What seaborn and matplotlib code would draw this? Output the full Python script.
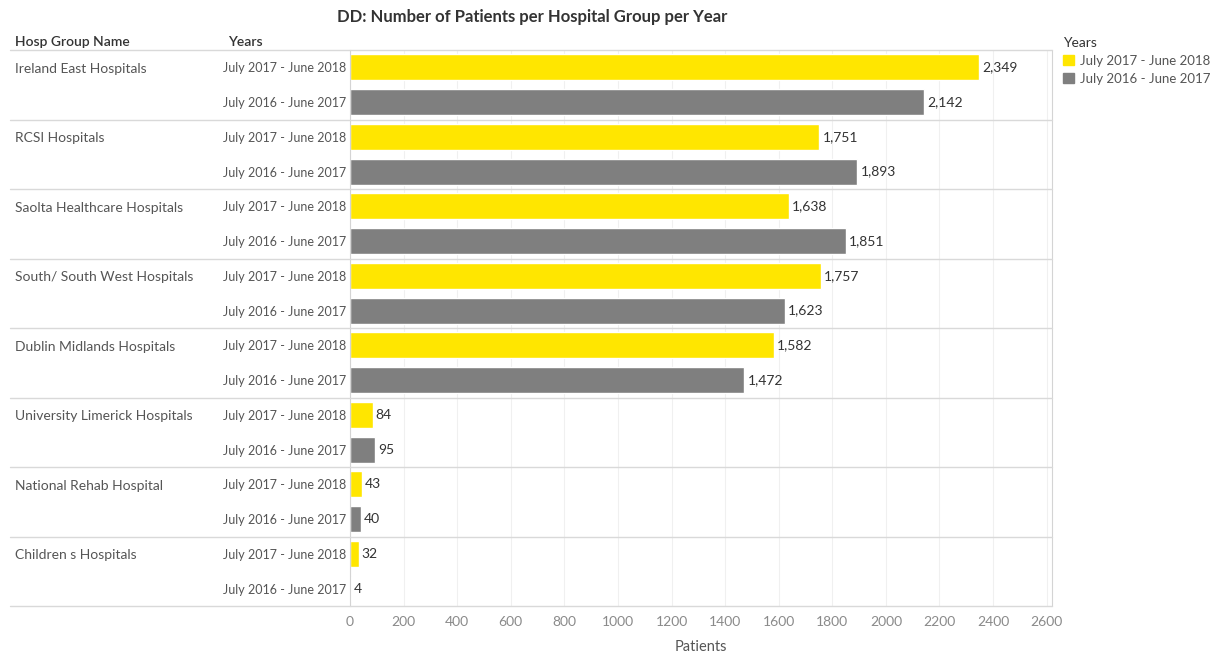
import matplotlib
matplotlib.use("Agg")
import matplotlib.pyplot as plt
import matplotlib.transforms as mtransforms
from matplotlib.lines import Line2D
import seaborn as sns
import pandas as pd

groups = ["Ireland East Hospitals", "RCSI Hospitals", "Saolta Healthcare Hospitals",
          "South/ South West Hospitals", "Dublin Midlands Hospitals",
          "University Limerick Hospitals", "National Rehab Hospital", "Children s Hospitals"]
years = ["July 2017 - June 2018", "July 2016 - June 2017"]
vals_1718 = [2349, 1751, 1638, 1757, 1582, 84, 43, 32]
vals_1617 = [2142, 1893, 1851, 1623, 1472, 95, 40, 4]
xticks = [0, 200, 400, 600, 800, 1000, 1200, 1400, 1600, 1800, 2000, 2200, 2400, 2600]
colors = {"July 2017 - June 2018": "#FFE600", "July 2016 - June 2017": "#7F7F7F"}

rows = []
for g, a, b in zip(groups, vals_1718, vals_1617):
    rows.append({"row": g + "|" + years[0], "group": g, "Years": years[0], "Patients": a})
    rows.append({"row": g + "|" + years[1], "group": g, "Years": years[1], "Patients": b})
df = pd.DataFrame(rows)

sns.set_theme(style="white")
plt.rcParams["font.family"] = ["Lato", "DejaVu Sans"]

fig = plt.figure(figsize=(12.2, 6.54), dpi=100)
W, H = 1220, 654
ax = fig.add_axes([350 / W, 1 - 606 / H, (1052 - 350) / W, (606 - 50) / H])

sns.barplot(data=df, y="row", x="Patients", hue="Years", hue_order=years,
            palette=colors, dodge=False, width=0.75, orient="h", ax=ax,
            legend=False, saturation=1)

ax.set_xlim(0, 2620)
ax.set_ylim(len(df) - 0.5, -0.5)
ax.set_xticks(xticks)
ax.set_xticklabels([str(t) for t in xticks], color="#8a8a8a", fontsize=10)
ax.set_yticks(range(len(df)))
ax.set_yticklabels(df["Years"], color="#555555", fontsize=9.0)
ax.tick_params(axis="both", length=0, pad=3)
ax.tick_params(axis="x", pad=7)
ax.set_ylabel("")
ax.set_xlabel("Patients", color="#555555", fontsize=10.5, labelpad=9)
for t in xticks:
    ax.axvline(t, color="#f0f0f0", lw=0.8, zorder=0)

for s in ["top", "bottom"]:
    ax.spines[s].set_visible(False)
ax.spines["left"].set_color("#d4d4d4")
ax.spines["right"].set_color("#d4d4d4")
ax.spines["left"].set_linewidth(0.8)
ax.spines["right"].set_linewidth(0.8)

# value labels
for i, v in enumerate(df["Patients"]):
    ax.text(v + 12, i, f"{v:,}", va="center", ha="left", fontsize=10, color="#333333")

# group separator lines and group labels
tr = mtransforms.blended_transform_factory(fig.transFigure, ax.transData)
for k in range(len(groups) + 1):
    y = 2 * k - 0.5
    fig.add_artist(Line2D([10 / W, 1052 / W], [y, y], transform=tr,
                          color="#d9d9d9", lw=1.0))
for k, g in enumerate(groups):
    fig.text(15 / W, 2 * k + 0.04, g, transform=tr, va="center", ha="left",
             fontsize=10, color="#555555")

# column headers
fig.text(15 / W, 1 - 41.5 / H, "Hosp Group Name", va="center", ha="left",
         fontsize=10, color="#333333", fontweight="semibold")
fig.text(228 / W, 1 - 41.5 / H, "Years", va="center", ha="left",
         fontsize=10, color="#333333", fontweight="semibold")

# title
fig.text(532 / W, 1 - 17 / H, "DD: Number of Patients per Hospital Group per Year",
         va="center", ha="center", fontsize=12, fontweight="bold", color="#333333")

# legend
handles = [plt.Rectangle((0, 0), 1, 1, color=colors[y]) for y in years]
leg = fig.legend(handles, years, title="Years", loc="upper left",
                 bbox_to_anchor=(1063 / W, 1 - 37 / H), frameon=False,
                 fontsize=9.5, title_fontsize=10, handlelength=0.8, handleheight=0.8,
                 handletextpad=0.5, labelspacing=0.45, borderaxespad=0, borderpad=0)
leg._legend_box.align = "left"
for t in leg.get_texts():
    t.set_color("#555555")
leg.get_title().set_color("#333333")

fig.savefig("out.png", dpi=100)
